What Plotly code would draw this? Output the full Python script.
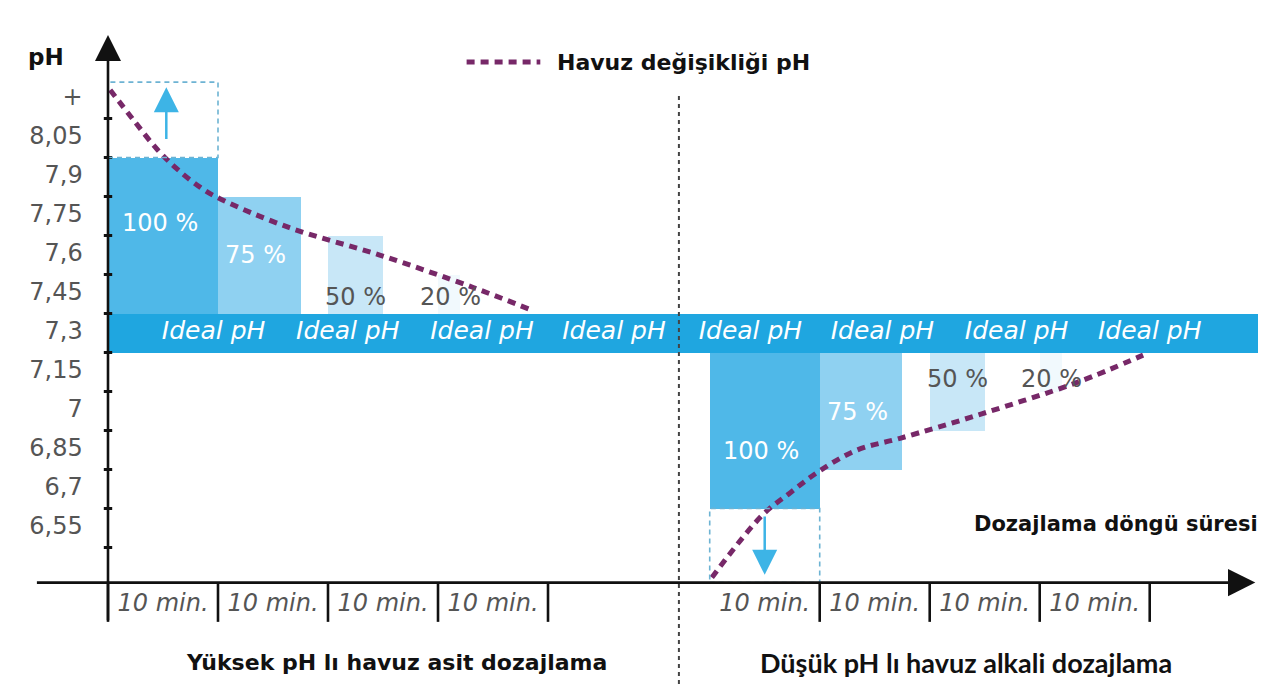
import plotly.graph_objects as go

# ---------------- data ----------------
ytick_labels = ["+", "8,05", "7,9", "7,75", "7,6", "7,45", "7,3", "7,15", "7", "6,85", "6,7", "6,55"]
ytick_values = [8.2, 8.05, 7.9, 7.75, 7.6, 7.45, 7.3, 7.15, 7.0, 6.85, 6.7, 6.55]
yaxis_marks = [8.125, 7.975, 7.825, 7.675, 7.525, 7.375, 7.225, 7.075, 6.925, 6.775, 6.625, 6.475]

ideal_low, ideal_high = 7.225, 7.375
ideal_label = "Ideal pH"
ideal_label_x = [9.6, 21.8, 34.0, 46.0, 58.4, 70.4, 82.6, 94.7]

dose_pct = [100, 75, 50, 20]
dose_labels = ["100 %", "75 %", "50 %", "20 %"]
segment_min = 10
acid_start = 0.0
alkali_start = 54.7
acid_tops = [7.975, 7.825, 7.675, 7.525]       # pH reached above ideal band
alkali_bottoms = [6.625, 6.775, 6.925, 7.075]  # pH reached below ideal band

acid_curve_x = [0.2, 2.3, 4.5, 6.3, 8.4, 10.0, 16.5, 24.7, 33.2, 38.4]
acid_curve_y = [8.235, 8.12, 8.005, 7.93, 7.86, 7.82, 7.705, 7.6, 7.475, 7.39]
alkali_curve_x = [54.9, 59.5, 62.0, 64.7, 68.1, 72.0, 79.5, 88.1, 94.1]
alkali_curve_y = [6.36, 6.60, 6.685, 6.77, 6.85, 6.895, 6.99, 7.11, 7.215]

legend_text = "Havuz değişikliği pH"
segment_text = "10 min."
acid_title = "Yüksek pH lı havuz asit dozajlama"
alkali_title = "Düşük pH lı havuz alkali dozajlama"
xaxis_title = "Dozajlama döngü süresi"
yaxis_title = "pH"

# ---------------- geometry / style ----------------
X0, X1 = -9.818, 106.18
Y0, Y1 = 5.95, 8.5808
AXIS_Y = 6.34
SEP_BOTTOM = 6.189
Y_TIP = 8.446
X_TIP = 104.3
X_LEFT = -6.6
DIVIDER_X = 51.9
band_end = 104.5
box_top = 8.265

BAND = "#1fa6e0"
BAR_COLORS = ["#4fb8e8", "#8fd1f1", "#c8e7f7", "#f1f9fd"]
CURVE = "#772868"
ARROW_BLUE = "#3db4e6"
BOX_LINE = "#6db3d3"
FONT = "DejaVu Sans, sans-serif"
GREY = "#555555"

fig = go.Figure()

# ideal band
fig.add_trace(go.Bar(x=[band_end / 2], y=[ideal_high - ideal_low], base=[ideal_low],
                     width=[band_end], marker=dict(color=BAND, line=dict(width=0)),
                     hoverinfo="skip"))

# dosing bars
for i, p in enumerate(dose_pct):
    w = segment_min * p / 100
    xs = acid_start + i * segment_min
    fig.add_trace(go.Bar(x=[xs + w / 2], y=[acid_tops[i] - ideal_high], base=[ideal_high],
                         width=[w], marker=dict(color=BAR_COLORS[i], line=dict(width=0)),
                         hoverinfo="skip"))
    xs2 = alkali_start + i * segment_min
    fig.add_trace(go.Bar(x=[xs2 + w / 2], y=[ideal_low - alkali_bottoms[i]], base=[alkali_bottoms[i]],
                         width=[w], marker=dict(color=BAR_COLORS[i], line=dict(width=0)),
                         hoverinfo="skip"))

# percentage labels
acid_lbl_y = [acid_tops[0] - 0.25, acid_tops[1] - 0.225, ideal_high + 0.065, ideal_high + 0.065]
alk_lbl_y = [alkali_bottoms[0] + 0.22, alkali_bottoms[1] + 0.22, ideal_low - 0.1, ideal_low - 0.1]
lbl_dx = [-0.3, -0.3, 0.0, 0.1]
for i, p in enumerate(dose_pct):
    w = segment_min * p / 100
    col = "white" if i < 2 else GREY
    cx = acid_start + i * segment_min + w / 2 + lbl_dx[i]
    fig.add_annotation(x=cx, y=acid_lbl_y[i], text=dose_labels[i], showarrow=False,
                       font=dict(family=FONT, size=24, color=col))
    cx2 = alkali_start + i * segment_min + w / 2 + lbl_dx[i]
    fig.add_annotation(x=cx2, y=alk_lbl_y[i], text=dose_labels[i], showarrow=False,
                       font=dict(family=FONT, size=24, color=col))

# ideal labels
fig.add_trace(go.Scatter(x=ideal_label_x, y=[(ideal_low + ideal_high) / 2] * len(ideal_label_x),
                         mode="text", text=[ideal_label] * len(ideal_label_x),
                         textfont=dict(family=FONT, size=25, color="white", style="italic"),
                         hoverinfo="skip"))

# dashed boxes (100% dose "overshoot" region)
fig.add_shape(type="rect", x0=acid_start, x1=acid_start + segment_min, y0=acid_tops[0], y1=box_top,
              line=dict(color=BOX_LINE, width=1.6, dash="5px,4px"))
fig.add_shape(type="rect", x0=alkali_start, x1=alkali_start + segment_min, y0=AXIS_Y, y1=alkali_bottoms[0],
              line=dict(color=BOX_LINE, width=1.6, dash="5px,4px"))

# blue arrows
fig.add_annotation(x=acid_start + 5.3, y=8.245, ax=acid_start + 5.3, ay=8.04, axref="x", ayref="y",
                   xref="x", yref="y", text="", showarrow=True, arrowhead=2, arrowsize=2.0,
                   arrowwidth=2.5, arrowcolor=ARROW_BLUE, standoff=0, startstandoff=0)
fig.add_annotation(x=alkali_start + 5.0, y=6.37, ax=alkali_start + 5.0, ay=6.6, axref="x", ayref="y",
                   xref="x", yref="y", text="", showarrow=True, arrowhead=2, arrowsize=2.0,
                   arrowwidth=2.5, arrowcolor=ARROW_BLUE, standoff=0, startstandoff=0)

# divider
fig.add_trace(go.Scatter(x=[DIVIDER_X, DIVIDER_X], y=[Y0, 8.215], mode="lines",
                         line=dict(color="#444444", width=2, dash="4px,4px"), hoverinfo="skip"))

# pH curves
for cx, cy in [(acid_curve_x, acid_curve_y), (alkali_curve_x, alkali_curve_y)]:
    fig.add_trace(go.Scatter(x=cx, y=cy, mode="lines",
                             line=dict(color=CURVE, width=5, dash="8px,6px", shape="spline"),
                             hoverinfo="skip"))

# legend sample
fig.add_trace(go.Scatter(x=[32.6, 39.3], y=[8.342, 8.342], mode="lines",
                         line=dict(color=CURVE, width=5, dash="8px,6px"), hoverinfo="skip"))
fig.add_annotation(x=40.6, y=8.342, text=legend_text, showarrow=False, xanchor="left",
                   font=dict(family=FONT, size=22, color="#111111", weight="bold"))

# axes
fig.add_annotation(x=0, y=Y_TIP, ax=0, ay=SEP_BOTTOM, axref="x", ayref="y", text="", showarrow=True,
                   arrowhead=2, arrowsize=2.0, arrowwidth=2.6, arrowcolor="#111111", standoff=0, startstandoff=0)
fig.add_annotation(x=X_TIP, y=AXIS_Y, ax=X_LEFT, ay=AXIS_Y, axref="x", ayref="y", text="", showarrow=True,
                   arrowhead=2, arrowsize=2.1, arrowwidth=2.6, arrowcolor="#111111", standoff=0, startstandoff=0)

# axis tick marks
fig.add_trace(go.Scatter(x=[0] * len(yaxis_marks), y=yaxis_marks, mode="markers",
                         marker=dict(symbol="line-ew", size=6, line=dict(width=3, color="#111111")),
                         hoverinfo="skip"))

# y tick labels
fig.add_trace(go.Scatter(x=[-2.3] * len(ytick_values), y=ytick_values, mode="text", text=ytick_labels,
                         textposition="middle left", textfont=dict(family=FONT, size=24, color=GREY),
                         hoverinfo="skip"))
fig.add_annotation(x=-5.6, y=8.36, text=yaxis_title, showarrow=False,
                   font=dict(family=FONT, size=23, color="#111111", weight="bold"))

# segment separators and labels
sep_x = [acid_start + k * segment_min for k in range(5)] + [alkali_start + k * segment_min for k in range(1, 5)]
for sx in sep_x:
    fig.add_trace(go.Scatter(x=[sx, sx], y=[SEP_BOTTOM, AXIS_Y], mode="lines",
                             line=dict(color="#111111", width=2.6), hoverinfo="skip"))
seg_centers = [acid_start + k * segment_min + 5 for k in range(4)] + [alkali_start + k * segment_min + 5 for k in range(4)]
fig.add_trace(go.Scatter(x=seg_centers, y=[6.254] * len(seg_centers), mode="text",
                         text=[segment_text] * len(seg_centers),
                         textfont=dict(family=FONT, size=24, color=GREY, style="italic"), hoverinfo="skip"))

# titles
fig.add_annotation(x=26.2, y=6.031, text=acid_title, showarrow=False,
                   font=dict(family=FONT, size=22, color="#111111", weight="bold"))
fig.add_annotation(x=78.0, y=6.031, text=alkali_title, showarrow=False,
                   font=dict(family="Lato, sans-serif", size=27, color="#111111", weight="bold"))
fig.add_annotation(x=78.5, y=6.565, text=xaxis_title, showarrow=False, xanchor="left",
                   font=dict(family=FONT, size=21, color="#111111", weight="bold"))

fig.update_layout(width=1276, height=684, margin=dict(l=0, r=0, t=0, b=0),
                  paper_bgcolor="white", plot_bgcolor="white", showlegend=False,
                  barmode="overlay", bargap=0,
                  xaxis=dict(range=[X0, X1], visible=False, fixedrange=True),
                  yaxis=dict(range=[Y0, Y1], visible=False, fixedrange=True))

fig.write_html("out.html", config={"displayModeBar": False},
               post_script="document.body.style.margin='0';document.body.style.overflow='hidden';")
